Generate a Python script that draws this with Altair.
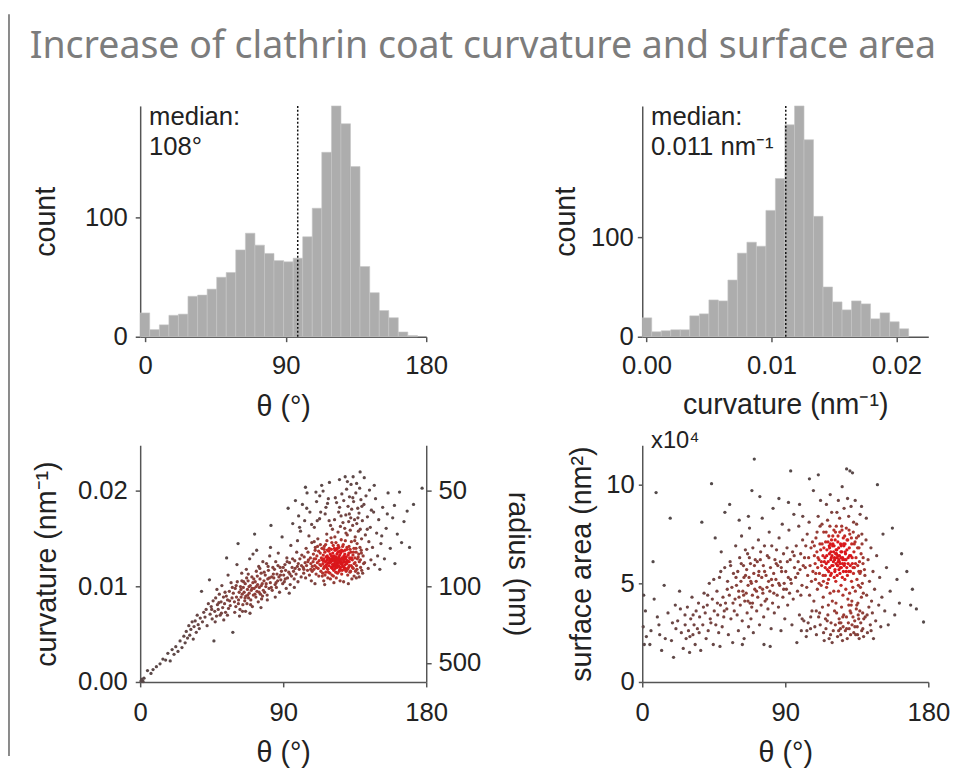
import altair as alt
import numpy as np
import pandas as pd

# ---------------- histogram data ----------------
theta_edges = [-3.2, 2.9, 9.1, 15.2, 21.3, 27.4, 33.6, 39.7, 45.8, 51.9, 58.0, 64.2, 70.3, 76.4, 82.5,
               88.7, 94.8, 100.9, 107.0, 113.1, 119.3, 125.4, 131.5, 137.6, 143.8, 149.9, 156.0, 162.1,
               168.2, 174.4]
theta_counts = [20, 6, 10, 18, 19, 34, 35, 40, 50, 54, 73, 87, 77, 70, 64, 63, 66, 84, 108, 155, 194,
                179, 143, 59, 37, 22, 16, 4, 1]
theta_median_pos = 97.7
theta_median_text = "median:\n108°"

curv_edges = [-0.00034, 0.00042, 0.00118, 0.00194, 0.00270, 0.00346, 0.00423, 0.00499, 0.00575,
              0.00651, 0.00727, 0.00803, 0.00879, 0.00955, 0.01031, 0.01107, 0.01184, 0.01260,
              0.01336, 0.01412, 0.01488, 0.01564, 0.01640, 0.01716, 0.01792, 0.01868, 0.01945,
              0.02021, 0.02097]
curv_counts = [19, 5, 6, 7, 7, 21, 23, 37, 36, 57, 84, 95, 91, 127, 159, 213, 232, 198, 121, 50, 35,
               27, 36, 33, 18, 24, 15, 8]
curv_median_pos = 0.01114
curv_median_text = "median:\n0.011 nm⁻¹"

# ---------------- scatter: (theta deg, curvature in 1e-3 nm^-1) ----------------
kappa_low = [
    (0.5, 0.1), (1.2, 0.3), (1.8, 0.05), (2.4, 0.4), (0.9, 0.2),
    (4.6, 1.2), (6.8, 0.9), (8.1, 1.3),
    (10.2, 1.6), (12.5, 1.9), (14.3, 2.4),
    (16.0, 2.3), (17.4, 3.0), (18.9, 2.2), (20.1, 3.4), (21.3, 2.9),
    (22.4, 3.7), (23.8, 3.2), (25.1, 4.3), (26.3, 3.6), (27.5, 4.8),
    (28.3, 4.1), (29.0, 5.3), (29.8, 4.6), (30.6, 5.9), (31.2, 4.9), (31.9, 5.5), (32.7, 6.3), (33.4, 4.5), (33.9, 5.8),
    (34.6, 6.4), (35.3, 5.2), (35.9, 7.0), (36.5, 6.0), (37.2, 5.6), (37.8, 6.7), (38.6, 9.5), (39.2, 6.3), (40.0, 7.3),
    (40.8, 6.8), (41.5, 7.6), (42.1, 5.9), (42.9, 8.2), (43.6, 10.7), (44.0, 7.1), (44.7, 7.9), (45.3, 6.6), (45.9, 8.5), (46.4, 4.3),
]
kappa_rise = [
    (46.9, 7.4), (47.5, 8.8), (48.0, 6.9), (48.6, 8.1), (49.1, 7.6), (49.8, 9.2), (50.3, 7.0), (50.9, 8.4), (51.4, 10.1),
    (51.9, 7.8), (52.4, 8.9), (52.6, 6.5), (48.3, 9.7),
    (53.1, 8.2), (53.7, 7.3), (54.2, 9.0), (54.4, 13.0), (55.0, 8.6), (55.6, 7.7), (56.1, 9.5), (56.7, 8.0), (57.2, 10.4),
    (57.8, 8.8), (58.3, 5.2), (58.6, 9.3), (55.3, 11.2),
    (59.3, 8.4), (59.8, 9.8), (60.2, 7.9), (60.6, 8.9), (61.1, 10.5), (61.6, 14.5), (61.9, 8.6), (62.3, 9.4), (62.8, 7.6),
    (63.1, 10.0), (63.5, 8.9), (63.9, 11.4), (64.2, 9.2), (64.6, 8.1), (64.9, 9.9), (60.9, 12.3), (62.5, 6.9), (64.0, 10.6),
    (65.4, 9.4), (65.8, 8.5), (66.1, 10.3), (66.5, 9.0), (66.8, 11.8), (67.2, 8.2), (67.5, 9.7), (67.9, 10.6), (68.2, 8.8),
    (68.6, 9.3), (68.9, 12.9), (69.3, 10.1), (69.6, 8.6), (69.9, 9.6), (70.3, 11.0), (70.6, 7.9), (70.9, 10.4), (71.2, 9.1),
    (66.3, 7.4), (68.0, 11.3), (69.1, 7.2), (71.0, 13.4),
    (71.7, 9.8), (72.0, 15.5), (72.4, 10.5), (72.8, 8.9), (73.1, 11.6), (73.5, 9.5), (73.9, 10.2), (74.3, 8.4), (74.6, 12.1),
    (75.0, 9.9), (75.4, 10.8), (75.7, 9.2), (76.1, 11.4), (76.4, 8.7), (76.8, 10.3), (77.2, 12.6), (77.5, 9.6), (73.3, 13.8),
    (76.0, 7.8),
    (77.9, 10.6), (78.3, 9.4), (78.7, 11.2), (79.1, 10.0), (79.5, 12.4), (79.9, 9.1), (80.3, 10.8), (80.7, 11.7), (81.1, 9.8),
    (81.5, 13.2), (81.9, 10.4), (82.3, 16.4), (82.7, 11.0), (83.1, 9.6), (83.5, 12.0), (80.0, 8.6), (82.0, 14.1),
    (84.1, 10.9), (84.5, 11.8), (84.9, 10.2), (85.3, 12.6), (85.7, 9.9), (86.1, 11.3), (86.5, 10.6), (86.9, 13.5), (87.3, 11.0),
    (87.7, 9.4), (88.1, 12.0), (88.5, 10.7), (88.9, 11.6), (89.3, 15.2), (89.7, 10.3), (85.0, 8.9),
]
kappa_peak = [
    (90.3, 11.2), (90.7, 10.5), (91.1, 12.3), (91.5, 11.7), (91.9, 9.8), (92.3, 13.0), (92.7, 10.9), (93.1, 18.2), (93.5, 11.5),
    (94.0, 12.5), (94.4, 10.2), (94.8, 14.3), (95.2, 11.1), (95.6, 12.0), (96.0, 16.6), (93.8, 9.3),
    (96.5, 11.6), (96.9, 10.8), (97.3, 12.7), (97.7, 19.0), (98.1, 11.3), (98.5, 13.6), (98.9, 12.1), (99.3, 10.5), (99.7, 17.4),
    (100.1, 11.8), (100.5, 12.9), (100.9, 15.8), (101.3, 11.0), (101.7, 13.3), (102.1, 18.6), (99.0, 14.8), (97.0, 9.9),
    (102.6, 12.0), (102.9, 11.4), (103.2, 13.1), (103.5, 16.9), (103.8, 12.5), (104.1, 10.9), (104.4, 14.0), (104.7, 12.2),
    (105.0, 19.8), (105.3, 11.7), (105.6, 13.6), (105.9, 12.8), (106.2, 15.3), (106.5, 11.2), (106.8, 17.8), (107.1, 13.0),
    (107.4, 12.4), (107.7, 10.6), (108.0, 14.6), (108.3, 12.1), (104.0, 20.4),
    (108.8, 12.6), (109.0, 13.4), (109.3, 11.8), (109.6, 16.2), (109.9, 12.2), (110.2, 14.1), (110.4, 12.9), (110.7, 11.3),
    (111.0, 18.9), (111.2, 13.2), (111.5, 12.5), (111.8, 15.0), (112.0, 11.9), (112.3, 13.7), (112.6, 12.7), (112.9, 17.1),
    (113.1, 12.3), (113.4, 14.4), (113.7, 11.6), (114.0, 13.0), (114.2, 20.6), (114.5, 12.8), (110.0, 10.3), (111.4, 16.9),
    (113.0, 19.5), (109.5, 14.7), (114.6, 11.1),
    (115.0, 12.4), (115.2, 13.3), (115.4, 11.9), (115.6, 12.9), (115.8, 14.2), (116.0, 12.1), (116.2, 13.6), (116.4, 17.6),
    (116.6, 12.6), (116.8, 11.5), (117.0, 13.1), (117.2, 12.3), (117.4, 15.5), (117.6, 12.8), (117.8, 13.8), (118.0, 11.8),
    (118.2, 12.5), (118.4, 19.2), (118.6, 13.0), (118.8, 12.2), (119.0, 14.0), (119.2, 12.7), (119.4, 11.4), (119.6, 13.4),
    (119.8, 16.4), (120.0, 12.6), (120.2, 12.0), (120.4, 13.2), (120.6, 14.6), (120.8, 12.9), (115.5, 10.6), (116.9, 18.3),
    (118.1, 10.9), (119.1, 20.9), (120.1, 15.1), (117.5, 14.8), (118.9, 16.9), (116.1, 10.2), (120.7, 11.2),
    (121.1, 12.7), (121.2, 13.5), (121.4, 12.1), (121.5, 14.3), (121.7, 12.9), (121.8, 11.7), (122.0, 13.2), (122.1, 12.4),
    (122.3, 17.0), (122.4, 12.8), (122.6, 13.8), (122.7, 11.9), (122.9, 12.6), (123.0, 13.1), (123.2, 14.6), (123.3, 12.3),
    (123.5, 12.9), (123.6, 18.8), (123.8, 13.4), (123.9, 12.0), (124.1, 12.7), (124.2, 11.4), (124.4, 13.6), (124.5, 15.7),
    (124.7, 12.5), (124.8, 13.0), (125.0, 12.2), (125.1, 14.1), (125.3, 12.8), (125.4, 21.2), (125.6, 13.3), (125.7, 11.8),
    (125.9, 12.6), (126.0, 16.3), (126.2, 13.5), (126.3, 12.4), (126.5, 14.9), (126.6, 12.9), (126.8, 11.3), (126.9, 19.7),
    (127.0, 13.0), (121.9, 10.4), (123.4, 10.9), (124.9, 17.8), (125.8, 10.6), (122.5, 15.2), (124.0, 14.0), (126.4, 17.4),
]
kappa_tail = [
    (127.3, 12.5), (127.5, 13.7), (127.6, 12.1), (127.8, 14.4), (127.9, 12.8), (128.1, 19.0), (128.2, 13.2), (128.4, 11.8),
    (128.5, 12.6), (128.7, 16.1), (128.8, 13.4), (129.0, 12.3), (129.1, 14.8), (129.3, 12.9), (129.4, 17.5), (129.6, 11.6),
    (129.7, 13.1), (129.9, 20.2), (130.0, 12.4), (130.2, 13.9), (130.3, 15.4), (130.5, 12.7), (130.6, 11.2), (130.8, 18.4),
    (130.9, 13.3), (131.1, 12.0), (131.2, 16.8), (131.4, 14.2), (131.5, 12.6), (131.7, 19.4), (131.8, 13.0), (132.0, 11.5),
    (132.2, 15.9), (132.3, 12.9), (132.5, 17.2), (132.6, 13.6), (132.8, 12.2), (132.9, 14.7), (133.1, 18.1), (133.2, 10.8),
    (128.0, 10.5), (129.5, 15.6), (131.0, 10.3), (130.4, 21.0), (132.7, 20.7),
    (133.5, 12.8), (133.7, 16.4), (133.9, 13.3), (134.1, 11.9), (134.3, 18.9), (134.5, 14.0), (134.7, 12.4), (134.9, 17.0),
    (135.1, 13.0), (135.3, 15.2), (135.5, 11.6), (135.7, 19.8), (135.9, 13.6), (136.1, 12.2), (136.3, 16.6), (136.5, 14.5),
    (136.7, 12.9), (136.9, 18.2), (137.1, 11.4), (137.3, 15.8), (137.5, 13.4), (137.7, 17.7), (137.9, 12.6), (138.1, 20.3),
    (138.3, 14.1), (138.5, 16.0), (138.7, 12.0), (138.9, 19.1), (139.1, 13.8), (139.3, 15.0), (134.0, 21.5), (136.0, 10.9),
    (138.4, 22.0), (135.0, 14.8), (137.0, 17.2), (139.4, 11.7),
    (139.8, 16.9), (140.3, 13.2), (140.8, 18.6), (141.2, 12.5), (141.7, 15.4), (142.1, 19.5), (142.6, 13.9), (143.0, 17.3),
    (143.5, 11.9), (143.9, 14.7), (144.3, 20.1), (144.8, 16.2), (145.2, 12.8), (145.5, 18.0), (141.0, 21.4),
    (146.2, 14.1), (146.9, 17.8), (147.5, 12.3), (148.1, 19.2), (148.8, 15.6), (149.4, 13.2), (150.1, 17.0), (150.8, 11.8),
    (151.5, 14.5),
    (152.6, 18.3), (153.7, 12.9), (154.8, 16.1), (156.0, 19.8), (157.4, 14.0),
    (158.9, 17.2), (160.3, 12.4), (161.8, 15.5), (163.2, 19.9),
    (166.0, 16.8), (169.5, 14.1), (172.0, 18.6), (177.4, 20.3),
]
kappa_more_cluster = [
    (108.2, 11.6), (109.4, 12.9), (110.1, 13.8), (110.9, 12.0), (111.6, 14.2), (112.4, 11.1), (113.3, 13.5), (113.8, 12.2),
    (114.4, 14.0), (114.9, 11.4), (115.3, 12.7), (115.7, 13.9), (116.3, 11.2), (116.7, 14.4), (117.3, 12.0), (117.7, 13.2),
    (118.5, 11.5), (118.7, 13.7), (119.3, 12.9), (119.7, 10.8), (120.3, 13.9), (120.9, 11.9), (121.3, 13.0), (121.6, 11.1),
    (122.2, 14.0), (122.8, 12.2), (123.1, 11.5), (123.7, 13.9), (124.3, 12.1), (124.6, 14.3), (125.2, 11.6), (125.5, 13.7),
    (126.1, 12.0), (126.7, 13.8), (127.1, 11.7), (127.4, 14.2), (127.7, 13.0), (128.3, 12.0), (128.9, 13.8), (129.2, 11.9),
    (129.8, 12.6), (130.1, 14.1), (130.5, 11.8), (131.3, 13.5), (131.6, 12.2), (132.1, 13.9), (132.4, 11.6), (133.0, 13.0),
    (133.6, 12.0), (134.2, 13.6), (134.6, 11.1), (135.2, 12.5), (135.8, 14.0), (136.4, 11.8), (137.2, 13.1), (137.8, 11.0),
    (138.6, 12.8), (139.2, 13.5), (140.0, 11.4), (140.6, 12.4), (121.0, 12.3), (122.0, 12.9), (123.0, 12.6), (124.0, 12.4),
    (125.0, 13.1), (126.0, 12.7), (127.0, 12.3), (128.0, 12.9), (119.5, 12.5), (118.0, 13.0), (124.5, 12.8), (122.5, 12.2),
    (126.5, 12.5), (120.5, 12.9), (128.5, 13.1),
]
kappa_more_band = [
    (45.0, 7.6), (47.2, 6.3), (49.5, 8.3), (51.1, 7.2), (53.4, 9.4), (54.9, 7.0), (56.3, 8.5), (58.0, 9.9), (59.5, 7.3),
    (60.4, 10.1), (61.8, 8.2), (63.4, 9.7), (64.4, 7.4), (65.1, 10.5), (66.0, 8.8), (67.0, 10.9), (67.7, 9.1), (68.5, 10.0),
    (69.5, 8.1), (70.4, 9.8), (71.5, 10.8), (72.2, 9.2), (73.0, 10.0), (73.7, 11.1), (74.8, 9.4), (75.3, 11.9), (76.2, 10.1),
    (77.0, 9.0), (78.0, 11.5), (79.3, 10.3), (80.5, 12.1), (81.3, 10.9), (82.5, 9.9), (83.8, 11.3), (85.5, 10.4), (86.7, 12.2),
    (88.3, 11.2), (90.0, 12.0), (91.3, 10.8), (92.5, 12.6), (94.2, 11.3), (95.9, 12.9), (97.5, 11.9), (99.5, 12.4),
    (101.5, 12.2), (103.0, 11.8), (105.5, 12.6), (107.3, 11.8),
]
kappa_more_upper = [
    (100.3, 16.2), (104.8, 18.2), (107.9, 16.5), (110.6, 19.9), (113.6, 17.8), (115.1, 20.0), (117.9, 18.7), (121.0, 16.0),
    (122.8, 19.3), (125.5, 18.3), (127.6, 16.7), (129.0, 21.5), (131.6, 17.6), (133.8, 19.3), (136.2, 20.8), (139.5, 18.4),
    (142.9, 16.0), (147.3, 20.6), (152.0, 15.3), (155.5, 17.6), (160.0, 18.5), (164.5, 14.6), (168.0, 17.9),
]

# ---------------- scatter: (theta deg, surface area in 1e4 nm^2) ----------------
area_low = [
    (0.6, 2.8), (1.3, 1.9), (2.0, 3.6), (0.9, 4.4), (2.6, 2.3),
    (4.8, 1.9), (6.8, 6.1), (8.7, 9.6), (7.5, 4.2),
    (10.5, 2.9), (12.2, 1.6), (13.8, 4.9), (11.0, 2.4),
    (16.2, 3.5), (17.6, 8.3), (18.4, 2.1), (19.7, 1.25), (20.8, 3.9), (21.2, 2.7),
    (22.3, 3.1), (23.5, 4.6), (24.6, 2.5), (25.8, 1.7), (26.9, 3.4), (27.6, 2.2),
    (28.4, 3.8), (29.1, 2.6), (29.8, 1.5), (30.5, 3.2), (31.3, 4.3), (31.9, 2.4), (32.6, 2.9), (33.3, 1.9), (33.9, 3.6),
    (34.7, 2.7), (35.4, 4.0), (36.1, 3.3), (36.8, 1.6), (37.5, 8.1), (38.1, 2.9), (38.9, 4.5), (39.6, 3.5), (40.2, 2.2),
    (40.9, 3.9), (41.5, 2.6), (42.2, 5.0), (42.8, 3.2), (43.6, 10.05), (44.1, 4.2), (44.7, 1.9), (45.3, 3.6), (45.9, 7.3),
    (46.3, 2.9),
    (5.5, 2.6), (9.5, 3.3), (14.5, 2.2), (19.0, 3.0), (24.0, 3.7), (27.0, 2.9), (30.0, 2.3), (32.0, 3.4), (35.8, 2.5),
    (38.5, 3.8),
]
area_rise = [
    (47.0, 4.6), (47.5, 3.4), (48.1, 2.5), (48.6, 5.3), (49.2, 3.9), (49.7, 6.6), (50.3, 2.8), (50.8, 4.3), (51.3, 3.3),
    (51.9, 5.8), (52.4, 4.0), (48.9, 1.8), (52.0, 8.6),
    (53.2, 3.7), (53.7, 5.1), (54.2, 2.4), (54.8, 4.4), (55.3, 6.1), (55.8, 3.2), (56.4, 4.8), (56.9, 2.0), (57.4, 5.5),
    (57.9, 3.6), (58.4, 4.2), (58.8, 6.9), (55.0, 9.0),
    (59.3, 4.9), (59.7, 3.4), (60.1, 5.6), (60.5, 2.6), (60.9, 4.3), (61.3, 6.3), (61.7, 3.9), (62.1, 5.1), (62.5, 7.4),
    (62.9, 3.1), (63.3, 4.6), (63.7, 5.9), (64.1, 2.2), (64.5, 4.1), (64.9, 6.7), (61.0, 8.2), (63.0, 1.9), (64.0, 5.3),
    (65.4, 4.5), (65.7, 5.7), (66.0, 3.5), (66.3, 6.5), (66.6, 4.9), (66.9, 2.8), (67.2, 5.3), (67.5, 7.8), (67.8, 4.0),
    (68.1, 6.0), (68.4, 3.2), (68.7, 5.0), (69.0, 9.7), (69.3, 4.4), (69.6, 6.8), (69.9, 2.5), (70.2, 5.5), (70.5, 11.3),
    (70.8, 4.7), (71.1, 6.2), (68.9, 3.8), (66.8, 8.4),
    (71.7, 5.1), (72.0, 3.6), (72.4, 6.1), (72.7, 4.3), (73.1, 7.2), (73.4, 5.6), (73.8, 2.9), (74.1, 4.8), (74.5, 6.6),
    (74.8, 3.9), (75.2, 5.3), (75.5, 8.3), (75.9, 4.5), (76.2, 5.9), (76.6, 1.9), (76.9, 6.9), (77.3, 4.1), (74.0, 9.4),
    (76.4, 3.3),
    (77.9, 5.4), (78.3, 4.2), (78.7, 6.4), (79.1, 3.7), (79.5, 5.1), (79.9, 7.6), (80.3, 4.6), (80.7, 5.8), (81.1, 2.7),
    (81.5, 6.9), (81.9, 4.9), (82.3, 8.8), (82.7, 5.5), (83.1, 3.5), (83.5, 6.2), (80.5, 1.8), (82.0, 4.0),
    (84.1, 5.2), (84.5, 6.7), (84.9, 4.4), (85.3, 5.9), (85.7, 3.8), (86.1, 7.3), (86.5, 4.9), (86.9, 6.1), (87.3, 2.6),
    (87.7, 5.6), (88.1, 8.0), (88.5, 4.3), (88.9, 6.5), (89.3, 5.0), (89.7, 3.2), (86.0, 9.3),
    (41.2, 4.4), (43.2, 3.0), (45.0, 5.2), (47.3, 4.0), (49.4, 5.6), (51.6, 3.6), (53.5, 4.7), (55.6, 5.9), (57.1, 4.0),
    (59.0, 5.3), (60.7, 4.6), (62.3, 6.0), (63.8, 4.4), (65.0, 5.4), (66.5, 4.1), (67.4, 6.3), (68.3, 5.1), (69.4, 4.0),
    (70.6, 5.9), (71.9, 4.6), (73.2, 5.4), (74.3, 6.2), (75.7, 4.7), (77.0, 5.6), (78.5, 4.8), (79.7, 6.3), (81.3, 5.2),
    (82.8, 4.5), (84.3, 6.0), (85.9, 5.0), (87.5, 5.8), (89.0, 4.7),
]
area_peak = [
    (90.3, 5.6), (90.7, 4.7), (91.1, 6.8), (91.5, 3.9), (91.9, 5.3), (92.3, 7.7), (92.7, 4.5), (93.1, 6.2), (93.4, 10.7),
    (93.8, 5.0), (94.2, 2.9), (94.6, 6.6), (95.0, 4.2), (95.4, 8.5), (95.8, 5.8), (92.0, 9.1),
    (96.5, 5.3), (96.9, 6.9), (97.3, 2.0), (97.7, 4.6), (98.1, 6.1), (98.5, 7.9), (98.9, 3.4), (99.3, 5.7), (99.7, 6.5),
    (100.1, 2.6), (100.5, 4.9), (100.9, 7.2), (101.3, 5.9), (101.7, 3.1), (102.1, 6.3), (99.0, 9.0), (101.0, 8.4),
    (102.6, 5.8), (102.9, 6.9), (103.2, 2.3), (103.5, 4.8), (103.8, 7.5), (104.1, 5.4), (104.4, 3.0), (104.7, 6.3),
    (105.0, 8.1), (105.3, 4.4), (105.6, 5.9), (105.9, 2.7), (106.2, 6.8), (106.5, 5.1), (106.8, 3.6), (107.1, 7.1),
    (107.4, 5.6), (107.7, 9.7), (108.0, 4.1), (108.3, 6.4), (105.2, 10.3),
    (108.8, 6.0), (109.0, 5.2), (109.3, 7.3), (109.6, 2.4), (109.9, 6.6), (110.2, 4.7), (110.4, 5.8), (110.7, 8.4),
    (111.0, 3.3), (111.2, 6.2), (111.5, 5.5), (111.8, 7.0), (112.0, 2.9), (112.3, 6.7), (112.6, 4.9), (112.9, 5.9),
    (113.1, 8.0), (113.4, 3.8), (113.7, 6.4), (114.0, 5.1), (114.2, 7.6), (114.5, 2.1), (110.8, 10.5), (112.2, 9.2),
    (113.9, 4.3), (109.5, 3.6), (114.6, 6.1),
    (115.0, 6.3), (115.2, 5.4), (115.4, 7.1), (115.6, 2.7), (115.8, 6.0), (116.0, 4.8), (116.2, 6.7), (116.4, 5.7),
    (116.6, 8.2), (116.8, 3.4), (117.0, 6.1), (117.2, 5.2), (117.4, 7.4), (117.6, 2.2), (117.8, 6.5), (118.0, 5.8),
    (118.2, 4.5), (118.4, 7.0), (118.6, 6.2), (118.8, 3.0), (119.0, 5.5), (119.2, 8.6), (119.4, 6.4), (119.6, 4.1),
    (119.8, 6.9), (120.0, 5.9), (120.2, 2.6), (120.4, 6.6), (120.6, 7.7), (120.8, 5.3), (115.9, 9.0), (117.1, 3.9),
    (118.3, 9.5), (119.5, 2.0), (120.5, 4.6), (116.5, 5.0), (117.9, 6.8), (119.1, 7.2), (115.3, 3.2),
    (121.1, 6.2), (121.2, 5.6), (121.4, 7.2), (121.5, 2.9), (121.7, 6.5), (121.8, 5.1), (122.0, 6.0), (122.1, 7.9),
    (122.3, 3.5), (122.4, 6.7), (122.6, 5.4), (122.7, 6.3), (122.9, 2.3), (123.0, 5.9), (123.2, 7.4), (123.3, 6.1),
    (123.5, 4.6), (123.6, 6.8), (123.8, 5.7), (123.9, 3.2), (124.1, 6.4), (124.2, 8.3), (124.4, 5.5), (124.5, 6.0),
    (124.7, 2.7), (124.8, 7.0), (125.0, 6.3), (125.1, 4.9), (125.3, 5.8), (125.4, 3.8), (125.6, 6.6), (125.7, 7.7),
    (125.9, 5.3), (126.0, 2.1), (126.2, 6.2), (126.3, 4.4), (126.5, 7.3), (126.6, 5.6), (126.8, 3.4), (126.9, 6.9),
    (127.0, 8.8), (121.9, 4.0), (123.4, 9.2), (124.9, 2.4), (125.8, 9.9), (122.5, 8.6), (124.0, 3.0), (126.4, 2.8),
    (91.3, 6.1), (93.3, 5.2), (95.6, 6.4), (97.9, 5.5), (99.8, 4.4),
]
area_tail = [
    (127.3, 6.0), (127.5, 5.2), (127.6, 7.0), (127.8, 2.6), (127.9, 6.5), (128.1, 4.7), (128.2, 6.2), (128.4, 7.8),
    (128.5, 3.3), (128.7, 5.8), (128.8, 6.7), (129.0, 2.2), (129.1, 5.4), (129.3, 7.2), (129.4, 4.2), (129.6, 6.3),
    (129.7, 3.0), (129.9, 8.4), (130.0, 5.6), (130.2, 2.7), (130.3, 6.8), (130.5, 4.5), (130.6, 7.5), (130.8, 3.6),
    (130.9, 5.9), (131.1, 2.4), (131.2, 6.4), (131.4, 8.9), (131.5, 3.9), (131.7, 5.1), (131.8, 7.0), (132.0, 2.9),
    (132.2, 6.0), (132.3, 10.6), (132.5, 4.8), (132.6, 3.3), (132.8, 7.6), (132.9, 5.5), (133.1, 2.5), (133.2, 6.6),
    (128.6, 10.8), (130.7, 10.7), (129.2, 9.3), (131.9, 4.1), (133.0, 8.1),
    (133.5, 5.8), (133.7, 3.1), (133.9, 7.1), (134.1, 4.6), (134.3, 2.4), (134.5, 6.3), (134.7, 3.7), (134.9, 8.0),
    (135.1, 5.2), (135.3, 2.8), (135.5, 6.8), (135.7, 4.0), (135.9, 3.4), (136.1, 7.4), (136.3, 5.6), (136.5, 2.2),
    (136.7, 6.1), (136.9, 3.6), (137.1, 8.5), (137.3, 4.8), (137.5, 3.0), (137.7, 6.5), (137.9, 4.3), (138.1, 2.6),
    (138.3, 7.0), (138.5, 5.0), (138.7, 3.5), (138.9, 6.0), (139.1, 4.5), (139.3, 2.3), (134.0, 9.2), (136.0, 4.9),
    (138.0, 8.9), (135.0, 3.9), (137.0, 5.5), (139.4, 3.2),
    (139.8, 5.7), (140.3, 3.3), (140.8, 7.2), (141.2, 4.4), (141.7, 2.5), (142.1, 6.2), (142.6, 3.8), (143.0, 5.1),
    (143.5, 2.9), (143.9, 6.8), (144.3, 4.1), (144.8, 3.5), (145.2, 5.6), (145.5, 2.2), (141.0, 8.3),
    (146.2, 4.7), (146.9, 3.1), (147.5, 6.4), (148.0, 10.0), (148.8, 3.9), (149.4, 5.3), (150.1, 2.8), (150.8, 4.3),
    (151.5, 7.5),
    (152.6, 3.6), (153.7, 5.8), (154.8, 2.9), (156.0, 4.6), (157.4, 7.8),
    (158.9, 3.4), (160.3, 5.2), (161.8, 4.0), (163.2, 6.5),
    (166.5, 5.6), (168.9, 3.9), (170.0, 4.7), (172.5, 3.7), (177.0, 3.04),
]
area_more_cluster = [
    (108.3, 6.9), (109.2, 5.5), (110.0, 7.6), (110.6, 6.3), (111.3, 5.0), (111.9, 7.9), (112.7, 6.1), (113.2, 7.0),
    (113.8, 5.4), (114.3, 6.8), (115.1, 5.8), (115.7, 7.6), (116.1, 6.4), (116.9, 7.1), (117.3, 5.6), (117.7, 6.9),
    (118.1, 7.9), (118.7, 6.6), (119.3, 5.9), (119.9, 7.4), (120.3, 6.1), (120.7, 6.9), (121.3, 5.7), (121.6, 7.6),
    (122.2, 6.5), (122.8, 5.9), (123.1, 7.1), (123.7, 6.2), (124.3, 7.6), (124.6, 5.8), (125.2, 6.9), (125.5, 7.9),
    (126.1, 6.3), (126.7, 7.0), (127.1, 5.9), (127.4, 7.4), (127.7, 6.6), (128.3, 5.6), (128.9, 7.2), (129.5, 6.0),
    (130.1, 7.7), (130.4, 6.4), (131.0, 5.6), (131.6, 7.3), (132.1, 6.3), (132.7, 5.8), (133.4, 7.0), (134.2, 6.0),
    (134.8, 7.3), (135.6, 5.9), (136.4, 6.8), (137.4, 5.6), (138.2, 7.5), (139.0, 6.3), (140.1, 5.4), (121.0, 6.3),
    (122.0, 6.7), (123.0, 6.4), (124.0, 6.1), (125.0, 6.6), (126.0, 6.0), (119.0, 6.3), (118.5, 5.4), (127.5, 6.2),
    (120.0, 7.0),
]
area_more_lower = [
    (100.6, 3.2), (103.6, 2.6), (106.0, 3.3), (108.6, 2.8), (111.6, 3.5), (114.1, 2.5), (116.4, 3.1), (118.5, 2.4),
    (121.0, 3.6), (123.6, 2.6), (126.2, 3.3), (128.6, 2.7), (131.3, 3.5), (133.8, 2.8), (136.2, 3.2), (138.8, 2.7),
    (141.5, 3.4), (144.0, 2.6), (130.0, 3.9), (125.0, 3.0), (135.5, 2.4),
]

radius_ticks_nm = [50, 100, 500]

# ---------------- helpers ----------------
FONT = "Liberation Sans"
GREY_LO, GREY_MID, RED_HI = "#524a4a", "#87403a", "#da161b"


def hist_df(edges, counts):
    return pd.DataFrame({"lo": edges[:-1], "hi": edges[1:], "count": counts})


def scatter_df(points, ycol, sx, sy, yscale=1.0):
    arr = np.array(points, dtype=float)
    x, y = arr[:, 0], arr[:, 1]
    d2 = ((x[:, None] - x[None, :]) / sx) ** 2 + ((y[:, None] - y[None, :]) / sy) ** 2
    dens = np.exp(-0.5 * d2).sum(axis=1)
    dens = (dens - dens.min()) / (dens.max() - dens.min())
    df = pd.DataFrame({"theta": x, ycol: y * yscale, "dens": dens})
    return df.sort_values("dens").reset_index(drop=True)


color_enc = alt.Color("dens:Q", legend=None,
                      scale=alt.Scale(domain=[0, 0.38, 0.85], range=[GREY_LO, GREY_MID, RED_HI], clamp=True))
one_row = pd.DataFrame({"a": [0]})

W = 290
H_TOP, H_BOT = 234, 240
LBL, TTL = 26, 29
PT = 11

# ---------------- top-left: theta histogram ----------------
th_df = hist_df(theta_edges, theta_counts)
th_bars = alt.Chart(th_df).mark_bar(color="#adadad", stroke="#c6c6c6", strokeWidth=0.6).encode(
    x=alt.X("lo:Q", scale=alt.Scale(domain=[-3.2, 180], nice=False, zero=False),
            axis=alt.Axis(values=[0, 90, 180], title="θ (°)", tickSize=5, labelPadding=11, titlePadding=15)),
    x2="hi:Q",
    y=alt.Y("count:Q", scale=alt.Scale(domain=[0, 194], nice=False),
            axis=alt.Axis(values=[0, 100], title="count", tickSize=5, labelPadding=8, titlePadding=24)),
    y2=alt.datum(0))
th_med = alt.Chart(pd.DataFrame({"m": [theta_median_pos]})).mark_rule(
    color="#111", strokeDash=[2, 2], strokeWidth=1.5).encode(x="m:Q")
th_txt = alt.Chart(pd.DataFrame({"t": [theta_median_text]})).mark_text(
    align="left", baseline="alphabetic", fontSize=26, font=FONT, color="#222",
    lineBreak="\n", lineHeight=31).encode(x=alt.value(9), y=alt.value(19), text="t:N")
title_txt = alt.Chart(pd.DataFrame({"t": ["Increase of clathrin coat curvature and surface area"]})).mark_text(
    align="left", baseline="alphabetic", fontSize=38, font="Noto Sans", color="#7c7c7c").encode(
    x=alt.value(-112), y=alt.value(-49), text="t:N")
border = alt.Chart(one_row).mark_rule(color="#8a8a8a", strokeWidth=2).encode(
    x=alt.value(-133), y=alt.value(-93), y2=alt.value(659))
top_left = alt.layer(th_bars, th_med, th_txt, title_txt, border).properties(width=W, height=H_TOP)

# ---------------- top-right: curvature histogram ----------------
cv_df = hist_df(curv_edges, curv_counts)
cv_bars = alt.Chart(cv_df).mark_bar(color="#adadad", stroke="#c6c6c6", strokeWidth=0.6).encode(
    x=alt.X("lo:Q", scale=alt.Scale(domain=[-0.00034, 0.02254], nice=False, zero=False),
            axis=alt.Axis(values=[0, 0.01, 0.02], format=".2f", title="curvature (nm⁻¹)",
                          tickSize=5, labelPadding=11, titlePadding=13)),
    x2="hi:Q",
    y=alt.Y("count:Q", scale=alt.Scale(domain=[0, 232], nice=False),
            axis=alt.Axis(values=[0, 100], title="count", tickSize=5, labelPadding=4, titlePadding=10)),
    y2=alt.datum(0))
cv_med = alt.Chart(pd.DataFrame({"m": [curv_median_pos]})).mark_rule(
    color="#111", strokeDash=[2, 2], strokeWidth=1.5).encode(x="m:Q")
cv_txt = alt.Chart(pd.DataFrame({"t": [curv_median_text]})).mark_text(
    align="left", baseline="alphabetic", fontSize=26, font=FONT, color="#222",
    lineBreak="\n", lineHeight=31).encode(x=alt.value(9), y=alt.value(19), text="t:N")
top_right = alt.layer(cv_bars, cv_med, cv_txt).properties(width=W, height=H_TOP)

# ---------------- bottom-left: curvature vs theta ----------------
kappa_all = (kappa_low + kappa_rise + kappa_peak + kappa_tail
             + kappa_more_cluster + kappa_more_band + kappa_more_upper)
k_df = scatter_df(kappa_all, "kappa", 8.0, 1.4, yscale=0.001)
k_dom = [0, 0.0248]
k_pts = alt.Chart(k_df).mark_circle(size=PT, opacity=1).encode(
    x=alt.X("theta:Q", scale=alt.Scale(domain=[0, 180], nice=False),
            axis=alt.Axis(values=[0, 90, 180], title="θ (°)", tickSize=5, labelPadding=13, titlePadding=14)),
    y=alt.Y("kappa:Q", scale=alt.Scale(domain=k_dom, nice=False),
            axis=alt.Axis(values=[0, 0.01, 0.02], format=".2f", title="curvature (nm⁻¹)",
                          tickSize=5, labelPadding=8, titlePadding=16)),
    color=color_enc)
rad_df = pd.DataFrame({"k": [1.0 / r for r in radius_ticks_nm]})
rad_axis = alt.Chart(rad_df).mark_point(opacity=0).encode(
    y=alt.Y("k:Q", scale=alt.Scale(domain=k_dom, nice=False),
            axis=alt.Axis(orient="right", values=list(rad_df["k"]),
                          labelExpr="format(1/datum.value, 'd')", title="radius (nm)",
                          tickSize=5, labelPadding=7, titlePadding=22)))
bottom_left = alt.layer(k_pts, rad_axis).resolve_scale(y="independent").properties(width=W, height=H_BOT)

# ---------------- bottom-right: surface area vs theta ----------------
area_all = area_low + area_rise + area_peak + area_tail + area_more_cluster + area_more_lower
a_df = scatter_df(area_all, "area", 9.0, 1.0)
a_pts = alt.Chart(a_df).mark_circle(size=PT, opacity=1).encode(
    x=alt.X("theta:Q", scale=alt.Scale(domain=[0, 180], nice=False),
            axis=alt.Axis(values=[0, 90, 180], title="θ (°)", tickSize=5, labelPadding=13, titlePadding=14)),
    y=alt.Y("area:Q", scale=alt.Scale(domain=[0, 12], nice=False),
            axis=alt.Axis(values=[0, 5, 10], title="surface area (nm²)",
                          tickSize=4, labelPadding=4, titlePadding=10)),
    color=color_enc)
a_exp = alt.Chart(pd.DataFrame({"t": ["x10⁴"]})).mark_text(
    align="left", baseline="alphabetic", fontSize=24, font=FONT, color="#222").encode(
    x=alt.value(9), y=alt.value(3), text="t:N")
bottom_right = alt.layer(a_pts, a_exp).properties(width=W, height=H_BOT)

chart = alt.concat(top_left, top_right, bottom_left, bottom_right, columns=2,
                   spacing={"row": 110, "column": 219}, bounds="flush", align="each").properties(
    padding=0, background="white"
).configure_view(stroke=None).configure_axis(
    labelFont=FONT, titleFont=FONT, labelFontSize=LBL, titleFontSize=TTL, titleFontWeight="normal",
    labelColor="#222", titleColor="#222", domainColor="#555", tickColor="#555",
    domainWidth=1.5, tickWidth=1.5, grid=False, labelFlush=False, labelOverlap=False)

chart.save("out.html", embed_options={"renderer": "svg", "actions": False})
